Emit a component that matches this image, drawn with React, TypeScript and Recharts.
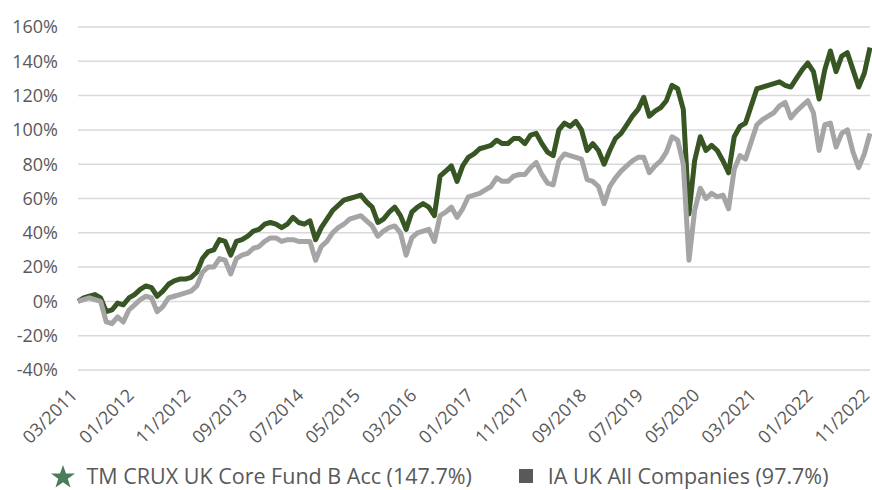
import React from 'react';
import { LineChart, Line, XAxis, YAxis, CartesianGrid, Legend } from 'recharts';

const tickLabels = ['03/2011','01/2012','11/2012','09/2013','07/2014','05/2015','03/2016','01/2017','11/2017','09/2018','07/2019','05/2020','03/2021','01/2022','11/2022'];
const yTicks = [-40, -20, 0, 20, 40, 60, 80, 100, 120, 140, 160];

const fund = [
  0, 2, 3, 4, 2, -6, -5, -1, -2, 2,
  4, 7, 9, 8, 3, 6, 10, 12, 13, 13,
  14, 17, 25, 29, 30, 36, 35, 27, 35, 36,
  38, 41, 42, 45, 46, 45, 43, 45, 49, 46,
  45, 47, 36, 43, 48, 53, 56, 59, 60, 61,
  62, 58, 55, 46, 48, 52, 55, 50, 42, 52,
  55, 57, 55, 50, 73, 76, 79, 70, 79, 84,
  86, 89, 90, 91, 94, 92, 92, 95, 95, 92,
  97, 98, 92, 87, 85, 100, 104, 102, 105, 100,
  88, 92, 88, 80, 88, 95, 98, 103, 108, 112,
  119, 108, 111, 113, 117, 126, 124, 112, 51, 82,
  96, 88, 91, 88, 82, 75, 96, 102, 104, 114,
  124, 125, 126, 127, 128, 126, 125, 130, 135, 139,
  134, 118, 135, 146, 134, 143, 145, 135, 125, 133, 148,
];

const sector = [
  0, 1, 2, 1, 0, -12, -13, -9, -12, -5,
  -2, 1, 3, 2, -6, -3, 2, 3, 4, 5,
  6, 9, 17, 20, 20, 25, 24, 16, 25, 27,
  28, 31, 32, 35, 37, 37, 35, 36, 36, 35,
  35, 35, 24, 32, 35, 40, 43, 45, 48, 49,
  50, 47, 44, 38, 41, 43, 44, 40, 27, 37,
  40, 41, 42, 35, 50, 52, 55, 49, 54, 61,
  62, 63, 65, 67, 72, 70, 70, 73, 74, 74,
  78, 81, 74, 69, 68, 82, 86, 85, 84, 83,
  71, 70, 67, 57, 67, 72, 76, 79, 82, 84,
  84, 75, 79, 82, 87, 96, 94, 80, 24, 53,
  66, 60, 63, 61, 62, 54, 77, 85, 83, 93,
  103, 106, 108, 110, 114, 116, 107, 111, 114, 117,
  110, 88, 103, 104, 90, 98, 100, 87, 78, 86, 98,
];

const seriesNames = ['TM CRUX UK Core Fund B Acc (147.7%)', 'IA UK All Companies (97.7%)'];

const data = fund.map((v, i) => ({ m: i, fund: v, sector: sector[i] }));
const xTicks = tickLabels.map((_, i) => i * 10);

const FONT = "'Open Sans', sans-serif";
const TEXT = '#595959';

const XTick = (props: any) => {
  const { x, y, payload } = props;
  const label = tickLabels[Math.round(payload.value / 10)];
  return (
    <g transform={`translate(${x - 4},${y + 22})`}>
      <text
        x={0}
        y={0}
        dy="0.35em"
        textAnchor="end"
        transform="rotate(-45)"
        fill={TEXT}
        fontSize={18}
        fontFamily={FONT}
      >
        {label}
      </text>
    </g>
  );
};

const Star = ({ color }: { color: string }) => (
  <svg width={26} height={24} viewBox="0 0 26 24" style={{ display: 'block' }}>
    <polygon
      points="13,1 16,9.5 25,9.5 17.8,14.8 20.5,23.5 13,18.2 5.5,23.5 8.2,14.8 1,9.5 10,9.5"
      fill={color}
    />
  </svg>
);

const LegendContent = () => (
  <div
    style={{
      height: 35,
      paddingTop: 9,
      boxSizing: 'border-box',
      fontFamily: FONT,
      fontSize: 21.5,
      lineHeight: '24px',
      color: TEXT,
      whiteSpace: 'nowrap',
    }}
  >
    <div style={{ display: 'flex', alignItems: 'center', justifyContent: 'center', height: 24, paddingLeft: 8 }}>
      <Star color="#4a7c59" />
      <span style={{ marginLeft: 11 }}>{seriesNames[0]}</span>
      <span style={{ display: 'inline-block', width: 14, height: 14, background: '#595959', marginLeft: 47 }} />
      <span style={{ marginLeft: 15 }}>{seriesNames[1]}</span>
    </div>
  </div>
);

export default function App() {
  return (
    <div style={{ position: 'absolute', left: 0, top: 0, width: 872, height: 490, background: '#fff' }}>
      <LineChart width={872} height={490} data={data} margin={{ top: 27, right: 2, bottom: 0, left: 0 }}>
        <CartesianGrid vertical={false} stroke="#d9d9d9" strokeWidth={1.5} />
        <XAxis
          dataKey="m"
          type="number"
          domain={[0, 140]}
          ticks={xTicks}
          interval={0}
          tick={<XTick />}
          tickLine={false}
          axisLine={false}
          height={85}
          tickSize={0}
          tickMargin={0}
        />
        <YAxis
          domain={[-40, 160]}
          ticks={yTicks}
          interval={0}
          tickFormatter={(v: number) => `${v}%`}
          tick={{ fill: TEXT, fontSize: 18, fontFamily: FONT }}
          tickLine={false}
          axisLine={false}
          width={78}
          tickSize={0}
          tickMargin={20}
        />
        <Legend verticalAlign="bottom" height={35} content={<LegendContent />} />
        <Line type="linear" dataKey="fund" stroke="#375623" strokeWidth={5} dot={false} isAnimationActive={false} strokeLinejoin="round" />
        <Line type="linear" dataKey="sector" stroke="#a5a5a5" strokeWidth={5} dot={false} isAnimationActive={false} strokeLinejoin="round" />
      </LineChart>
    </div>
  );
}
